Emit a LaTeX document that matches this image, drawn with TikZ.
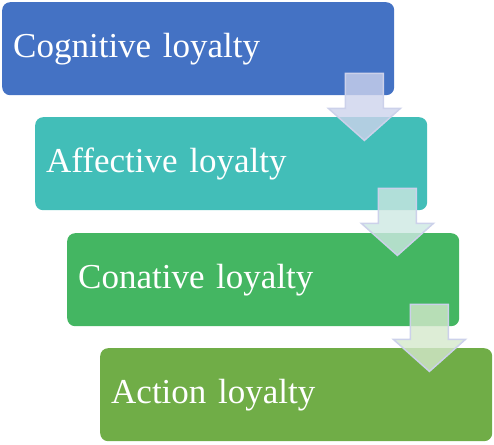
\documentclass[tikz,border=0pt]{standalone}
\usepackage{fontspec}
\setmainfont{Liberation Serif}
\definecolor{cA}{RGB}{68,114,196}
\definecolor{cB}{RGB}{66,190,184}
\definecolor{cC}{RGB}{68,182,98}
\definecolor{cD}{RGB}{112,173,71}
\definecolor{arrB}{RGB}{204,209,234}
\definecolor{fA}{RGB}{205,211,236}
\definecolor{fB}{RGB}{205,232,226}
\definecolor{fC}{RGB}{212,232,204}
\begin{document}
\begin{tikzpicture}[x=1bp,y=-1bp,
  stepbox/.style={rectangle, rounded corners=8bp, anchor=north west,
    minimum width=392bp, minimum height=93bp, inner xsep=11bp, inner ysep=0pt,
    text width=370bp, align=left, text height=55bp, text depth=38bp,
    text=white, font=\fontsize{35bp}{40bp}\selectfont},
  arrowshape/.style={draw=arrB, line width=1.5bp, fill opacity=0.8, line join=miter}]
\useasboundingbox (0,0) rectangle (494,445);
\node[stepbox, fill=cA] (b1) at (2,2) {Cognitive loyalty};
\node[stepbox, fill=cB] (b2) at (35,117) {Affective loyalty};
\node[stepbox, fill=cC] (b3) at (67,233) {Conative loyalty};
\node[stepbox, fill=cD] (b4) at (100,348) {Action loyalty};
\draw[arrowshape, fill=fA, shift={(b1.south east)}] (-49,-22) -- (-11,-22) -- (-11,13) -- (6,13) -- (-30,45) -- (-66,13) -- (-49,13) -- cycle;
\draw[arrowshape, fill=fB, shift={(b2.south east)}] (-49,-22) -- (-11,-22) -- (-11,13) -- (6,13) -- (-30,45) -- (-66,13) -- (-49,13) -- cycle;
\draw[arrowshape, fill=fC, shift={(b3.south east)}] (-49,-22) -- (-11,-22) -- (-11,13) -- (6,13) -- (-30,45) -- (-66,13) -- (-49,13) -- cycle;
\end{tikzpicture}
\end{document}
